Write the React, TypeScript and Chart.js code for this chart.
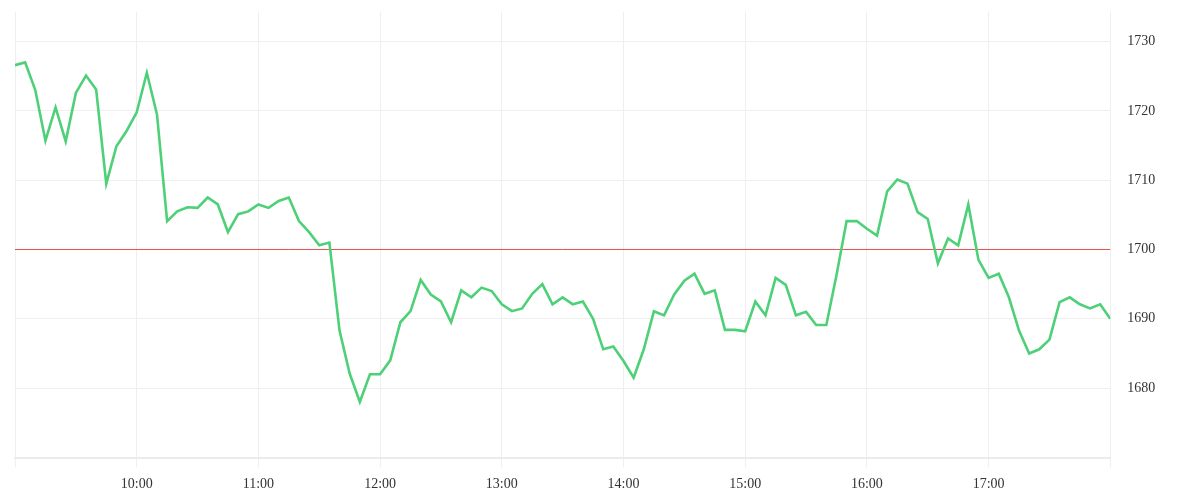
import React, { useEffect, useRef } from 'react';
import { Chart, registerables } from 'chart.js';

Chart.register(...registerables);

// minutes after 09:00, one sample every 5 minutes
const intervalMinutes = 5;
const prices = [
  1726.6, 1727.0, 1723.0, 1715.7, 1720.5, 1715.6, 1722.6, 1725.1, 1723.1, 1709.5,
  1714.9, 1717.1, 1719.8, 1725.5, 1719.5, 1704.1, 1705.5, 1706.1, 1706.0, 1707.5,
  1706.5, 1702.5, 1705.1, 1705.5, 1706.5, 1706.0, 1707.0, 1707.5, 1704.1, 1702.5,
  1700.6, 1701.0, 1688.3, 1682.1, 1678.0, 1682.0, 1682.0, 1684.0, 1689.5, 1691.1,
  1695.6, 1693.5, 1692.5, 1689.5, 1694.1, 1693.1, 1694.5, 1694.0, 1692.1, 1691.1,
  1691.5, 1693.6, 1695.0, 1692.1, 1693.1, 1692.1, 1692.5, 1690.0, 1685.6, 1686.0,
  1683.9, 1681.5, 1685.6, 1691.1, 1690.5, 1693.5, 1695.5, 1696.5, 1693.6, 1694.1,
  1688.4, 1688.4, 1688.2, 1692.5, 1690.5, 1695.9, 1694.9, 1690.5, 1691.0, 1689.1,
  1689.1, 1696.3, 1704.1, 1704.1, 1703.0, 1702.0, 1708.4, 1710.1, 1709.5, 1705.4,
  1704.4, 1698.0, 1701.6, 1700.6, 1706.5, 1698.5, 1695.9, 1696.5, 1693.1, 1688.3,
  1685.0, 1685.6, 1687.0, 1692.4, 1693.1, 1692.1, 1691.5, 1692.1, 1690.0,
];
const referencePrice = 1700;

// x ticks: minutes after 09:00 and their labels
const timeTickValues = [0, 60, 120, 180, 240, 300, 360, 420, 480, 540];
const timeTickLabels = ['', '10:00', '11:00', '12:00', '13:00', '14:00', '15:00', '16:00', '17:00', ''];
const priceTicks = [1680, 1690, 1700, 1710, 1720, 1730];
const priceMin = 1669.87;
const priceMax = 1734.27;

const LINE = 'rgb(77, 208, 120)';
const REF = '#e8504f';
const GRID = '#efefef';
const TEXT = '#333333';
const FONT = "'Liberation Serif', serif";

export default function App() {
  const ref = useRef<HTMLCanvasElement | null>(null);

  useEffect(() => {
    if (!ref.current) return;
    const lastX = (prices.length - 1) * intervalMinutes;
    const chart = new Chart(ref.current, {
      type: 'line',
      data: {
        datasets: [
          {
            data: prices.map((p, i) => ({ x: i * intervalMinutes, y: p })),
            borderColor: LINE,
            borderWidth: 2.6,
            pointRadius: 0,
            tension: 0,
            fill: false,
          },
          {
            data: [
              { x: 0, y: referencePrice },
              { x: lastX, y: referencePrice },
            ],
            borderColor: REF,
            borderWidth: 1,
            pointRadius: 0,
            fill: false,
          },
        ],
      },
      options: {
        animation: false,
        responsive: false,
        maintainAspectRatio: false,
        layout: { padding: { left: 15, top: 12, right: 0, bottom: 0 } },
        plugins: { legend: { display: false }, tooltip: { enabled: false } },
        scales: {
          x: {
            type: 'linear',
            min: 0,
            max: 540,
            afterBuildTicks: (axis: any) => {
              axis.ticks = timeTickValues.map((v) => ({ value: v }));
            },
            afterFit: (axis: any) => {
              axis.height = 41.7;
              axis.paddingLeft = 0;
              axis.paddingRight = 0;
            },
            ticks: {
              autoSkip: false,
              maxRotation: 0,
              padding: 9,
              color: TEXT,
              font: { family: FONT, size: 14 },
              callback: (value: any) => {
                const idx = timeTickValues.indexOf(Number(value));
                return idx >= 0 ? timeTickLabels[idx] : '';
              },
            },
            grid: { color: GRID, tickLength: 9, lineWidth: 1 },
            border: { color: '#ebebeb', width: 2 },
          },
          y: {
            type: 'linear',
            position: 'right',
            min: priceMin,
            max: priceMax,
            afterBuildTicks: (axis: any) => {
              axis.ticks = priceTicks.map((v) => ({ value: v }));
            },
            afterFit: (axis: any) => {
              axis.width = 89.7;
              axis.paddingTop = 0;
              axis.paddingBottom = 0;
            },
            ticks: {
              padding: 17,
              color: TEXT,
              font: { family: FONT, size: 14 },
              callback: (value: any) => String(value),
            },
            grid: { color: GRID, drawTicks: false, lineWidth: 1 },
            border: { display: false },
          },
        },
      },
    });
    return () => chart.destroy();
  }, []);

  return (
    <div style={{ position: 'fixed', left: 0, top: 0, width: 1200, height: 500, background: '#fff' }}>
      <canvas ref={ref} width={1200} height={500} style={{ display: 'block', width: 1200, height: 500 }} />
    </div>
  );
}
